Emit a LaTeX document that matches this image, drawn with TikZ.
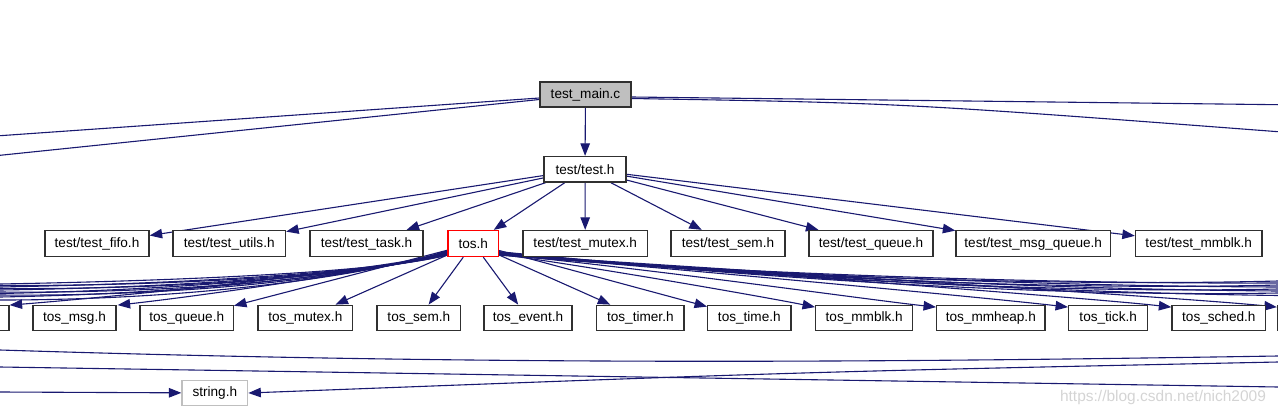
\documentclass[tikz,border=0pt]{standalone}
\usepackage{fontspec}
\setmainfont{Liberation Sans}
\usetikzlibrary{arrows.meta,calc,backgrounds}
\definecolor{edgec}{HTML}{191970}
\definecolor{mainfill}{HTML}{BFBFBF}
\definecolor{bordc}{HTML}{303030}
\tikzset{
  box/.style={draw=bordc, line width=1.3pt, fill=white, minimum height=25.5pt, inner sep=0pt, font=\fontsize{13.6}{15}\selectfont},
  link/.style={draw=edgec, line width=1.1pt},
  arr/.style={link, -{Triangle[length=12.5pt,width=9.5pt]}},
}
\begin{document}
\begin{tikzpicture}[x=1pt,y=-1pt]
\useasboundingbox (0,0) rectangle (1278,415);
\begin{scope}
\clip (0,0) rectangle (1278,415);
% level 0 and 1
\node[box, fill=mainfill, minimum width=91pt, minimum height=25pt] (main) at (585.5,94.5) {test\_main.c};
\node[box, minimum width=82pt] (test) at (585,169.25) {test/test.h};
% level 2
\node[box, minimum width=104pt, minimum height=26pt] (fifo) at (97,243.5) {test/test\_fifo.h};
\node[box, minimum width=112.5pt, minimum height=26pt] (utils) at (229.25,243.5) {test/test\_utils.h};
\node[box, minimum width=113pt, minimum height=26pt] (task) at (366.5,243.5) {test/test\_task.h};
\node[box, draw=red, minimum width=50.5pt, minimum height=26pt] (tos) at (473.25,243.5) {tos.h};
\node[box, minimum width=124.5pt, minimum height=26pt] (mutex) at (585.25,243.5) {test/test\_mutex.h};
\node[box, minimum width=114pt, minimum height=26pt] (sem) at (728,243.5) {test/test\_sem.h};
\node[box, minimum width=124pt, minimum height=26pt] (queue) at (871,243.5) {test/test\_queue.h};
\node[box, minimum width=154.5pt, minimum height=26pt] (msgq) at (1033.25,243.5) {test/test\_msg\_queue.h};
\node[box, minimum width=126.5pt, minimum height=26pt] (mmblk) at (1198.75,243.5) {test/test\_mmblk.h};
% level 3
\node[box, minimum width=78pt] (lbox) at (-30,318) {};
\node[box, minimum width=83pt] (msg) at (74.5,318) {tos\_msg.h};
\node[box, minimum width=93.3pt] (queue3) at (186.7,318) {tos\_queue.h};
\node[box, minimum width=94.7pt] (mutex3) at (305.3,318) {tos\_mutex.h};
\node[box, minimum width=83.7pt] (sem3) at (418.85,318) {tos\_sem.h};
\node[box, minimum width=88pt] (event) at (528,318) {tos\_event.h};
\node[box, minimum width=87.3pt] (timer) at (640.35,318) {tos\_timer.h};
\node[box, minimum width=83.3pt] (time) at (749.35,318) {tos\_time.h};
\node[box, minimum width=97pt] (mmblk3) at (864.2,318) {tos\_mmblk.h};
\node[box, minimum width=108.3pt] (mmheap) at (990.85,318) {tos\_mmheap.h};
\node[box, minimum width=79pt] (tick) at (1108.2,318) {tos\_tick.h};
\node[box, minimum width=93.7pt] (sched) at (1218.85,318) {tos\_sched.h};
\node[box, minimum width=86pt] (rbox) at (1320.5,318) {};
% level 4
\node[box, draw=mainfill, minimum width=65.7pt, minimum height=25.4pt] (string) at (214.85,393) {string.h};
% watermark
\node[font=\fontsize{15.5}{17}\selectfont, text=black!17, inner sep=0pt] (wm) at (1163,397) {https://blog.csdn.net/nich2009};
\end{scope}

\begin{pgfonlayer}{background}
\clip (0,0) rectangle (1278,415);
% free ends
\coordinate (mL1) at (0,135.7);
\coordinate (mL2) at (0,155.3);
\coordinate (mR1) at (1278,104.7);
\coordinate (mR2) at (1278,131.7);
\coordinate (bL1) at (0,350);
\coordinate (bR1) at (1278,356);
\coordinate (bL2) at (0,367);
\coordinate (bR2) at (1278,387);
\coordinate (bL3) at (0,392);
\coordinate (bR3) at (1278,362);
% test_main.c
\draw[arr] (main) -- (test);
\draw[link] ($(main.west)+(0,3.5)$) -- (mL1);
\draw[link] ($(main.west)+(0,5)$) -- (mL2);
\draw[link] ($(main.east)+(0,2.5)$) -- (mR1);
\draw[link] ($(main.east)+(0,4)$) .. controls (900,103) .. (mR2);
% test/test.h
\foreach \t in {fifo,utils,task,tos,mutex,sem,queue,msgq,mmblk}
  \draw[arr] (test) -- (\t);
% tos.h straight
\foreach \t in {queue3,mutex3,sem3,event,timer,time}
  \draw[arr] (tos) -- (\t);
% tos.h left bundle
\foreach \i/\s/\c/\e in {1/2/280/284, 2/2.5/286/285.5, 3/3/283/287, 4/3.5/290/288.5, 5/4/287/290, 6/4.5/294/292, 7/5/289/293.5, 8/5.5/297/295, 9/6/293/297, 10/6.5/300/300}
  {\coordinate (lf\i) at (0,\e);
   \draw[link] ($(tos.south west)+(0,-\s)$) .. controls (390,270) and (220,\c) .. (lf\i);}
\draw[arr] ($(tos.south west)+(0,-4)$) .. controls (370,272) and (200,296) .. ($(msg.north east)+(1,0.5)$);
\draw[arr] ($(tos.south west)+(0,-4)$) .. controls (370,272) and (100,298) .. ($(lbox.north east)+(0,0.5)$);
% tos.h right bundle
\foreach \i/\s/\c/\e in {1/2/288/281, 2/2.5/284/283, 3/3/292/285, 4/3.5/286/287, 5/4/295/289, 6/4.5/289/291, 7/5/298/293, 8/5.5/292/295.5}
  {\coordinate (rf\i) at (1278,\e);
   \draw[link] ($(tos.south east)+(0,-\s)$) .. controls (680,270) and (1000,\c) .. (rf\i);}
\draw[arr] ($(tos.south east)+(0,-3)$) .. controls (600,268) and (770,298) .. ($(mmblk3.north west)+(0,2.5)$);
\draw[arr] ($(tos.south east)+(0,-3)$) .. controls (660,270) and (870,300) .. ($(mmheap.north west)+(0,2.5)$);
\draw[arr] ($(tos.south east)+(0,-3)$) .. controls (700,271) and (990,298) .. ($(tick.north west)+(0,2.5)$);
\draw[arr] ($(tos.south east)+(0,-3)$) .. controls (740,272) and (1090,298) .. ($(sched.north west)+(0,2.5)$);
\draw[arr] ($(tos.south east)+(0,-3)$) .. controls (780,273) and (1190,298) .. ($(rbox.north west)+(0,2.5)$);
% bottom lines and string.h
\draw[link] (bL1) .. controls (500,366) and (900,362) .. (bR1);
\draw[link] (bL2) -- (bR2);
\draw[arr] (bL3) -- (string);
\draw[arr] (bR3) .. controls (800,372) .. (string.east);
\end{pgfonlayer}
\end{tikzpicture}
\end{document}
